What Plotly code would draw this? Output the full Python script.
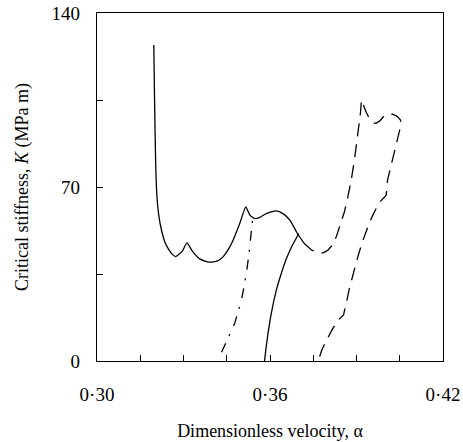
import plotly.graph_objects as go

# Main solid curve
solid1_x = [0.3197, 0.3199, 0.3201, 0.3204, 0.3208, 0.3215, 0.3224, 0.3235, 0.3248, 0.3262, 0.3273,
            0.3287, 0.3296, 0.3312, 0.3330, 0.3355, 0.3380, 0.3397, 0.3420, 0.3437, 0.3455, 0.3472,
            0.3495, 0.3516, 0.3530, 0.3547, 0.3565, 0.3587, 0.3622, 0.3645, 0.3670, 0.3692, 0.3717]
solid1_y = [127.1, 110.0, 95.0, 77.0, 66.0, 58.0, 52.5, 48.0, 45.0, 42.8, 42.0,
            43.2, 44.2, 47.5, 44.3, 41.2, 40.0, 39.8, 40.4, 41.9, 44.8, 48.6,
            55.3, 62.0, 58.7, 57.3, 57.8, 59.3, 60.4, 59.3, 56.5, 51.9, 47.5]

# Second solid curve
solid2_x = [0.3581, 0.3586, 0.3593, 0.3605, 0.3622, 0.3640, 0.3657, 0.3675, 0.3690, 0.3700]
solid2_y = [0.0, 5.0, 11.0, 19.5, 28.5, 35.5, 41.2, 46.0, 49.2, 51.3]

# Dash-dot curve
dashdot_x = [0.3432, 0.3455, 0.3478, 0.3501, 0.3518, 0.3527, 0.3535, 0.3541]
dashdot_y = [3.5, 9.5, 15.3, 24.4, 35.2, 43.0, 51.3, 58.7]

# Dashed curve
dashed_x = [0.3717, 0.3745, 0.3765, 0.3784, 0.3800, 0.3815, 0.3830, 0.3845, 0.3858, 0.3870,
            0.3882, 0.3893, 0.3902, 0.3909, 0.3914, 0.3917, 0.3925, 0.3934, 0.3945, 0.3955,
            0.3967, 0.3980, 0.3995, 0.4010, 0.4025, 0.4040, 0.4052, 0.4056, 0.4050, 0.4040,
            0.4030, 0.4018, 0.4008, 0.4003, 0.3990, 0.3980, 0.3962, 0.3946, 0.3930, 0.3915,
            0.3900, 0.3888, 0.3875, 0.3865, 0.3855, 0.3836, 0.3815, 0.3796, 0.3780, 0.3767]
dashed_y = [47.5, 44.6, 43.6, 43.5, 44.5, 46.5, 50.0, 55.0, 60.0, 66.0,
            73.0, 81.0, 89.0, 95.0, 100.0, 105.0, 102.5, 100.0, 97.5, 96.0,
            95.6, 96.5, 98.5, 99.2, 99.3, 98.5, 97.0, 95.5, 93.0, 88.5,
            84.0, 78.5, 73.0, 66.7, 65.0, 63.8, 60.0, 56.0, 51.0, 46.0,
            40.0, 35.0, 29.0, 23.5, 18.5, 16.4, 12.5, 8.3, 4.5, 0.0]

x_tickvals = [0.30, 0.315, 0.33, 0.345, 0.36, 0.375, 0.39, 0.405, 0.42]
x_ticktext = ["0·30", "", "", "", "0·36", "", "", "", "0·42"]
y_tickvals = [0, 35, 70, 105, 140]
y_ticktext = ["0", "", "70", "", "140"]

FONT = "Liberation Serif, Times New Roman, serif"
LW = 1.3

fig = go.Figure()
fig.add_trace(go.Scatter(x=solid1_x, y=solid1_y, mode="lines",
                         line=dict(color="black", width=LW, shape="spline", smoothing=0.5)))
fig.add_trace(go.Scatter(x=solid2_x, y=solid2_y, mode="lines",
                         line=dict(color="black", width=LW, shape="spline", smoothing=0.5)))
fig.add_trace(go.Scatter(x=dashdot_x, y=dashdot_y, mode="lines",
                         line=dict(color="black", width=LW, dash="10px,8px,2px,9px")))
fig.add_trace(go.Scatter(x=dashed_x, y=dashed_y, mode="lines",
                         line=dict(color="black", width=LW, dash="13px,8px")))

fig.update_layout(
    width=463, height=442,
    margin=dict(l=97, r=20, t=13, b=81),
    paper_bgcolor="white", plot_bgcolor="white",
    showlegend=False,
    font=dict(family=FONT, size=19, color="black"),
)
fig.update_xaxes(
    range=[0.30, 0.42], tickvals=x_tickvals, ticktext=x_ticktext,
    ticks="inside", ticklen=6, tickwidth=1, tickcolor="black",
    showline=True, linecolor="black", linewidth=1.2, mirror=True,
    showgrid=False, zeroline=False, ticklabelstandoff=16, automargin=False,
    title=dict(text="Dimensionless velocity, α", font=dict(family=FONT, size=18), standoff=20),
)
fig.update_yaxes(
    range=[0, 140], tickvals=y_tickvals, ticktext=y_ticktext,
    ticks="inside", ticklen=6, tickwidth=1, tickcolor="black",
    showline=True, linecolor="black", linewidth=1.2, mirror=True,
    showgrid=False, zeroline=False, ticklabelstandoff=12, automargin=False,
    title=dict(text="Critical stiffness, <i>K</i> (MPa m)", font=dict(family=FONT, size=18), standoff=18),
)
fig.write_html("out.html")
